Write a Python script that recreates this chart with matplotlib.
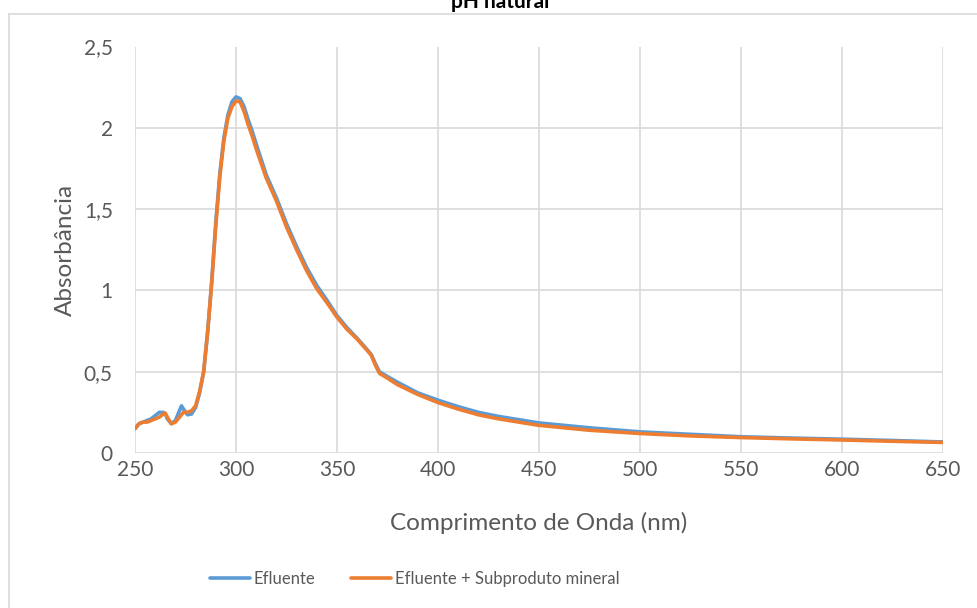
import matplotlib
matplotlib.use("Agg")
import matplotlib.pyplot as plt
from matplotlib.lines import Line2D

plt.rcParams['font.family'] = ['Lato', 'DejaVu Sans']

# Wavelength (nm) and absorbance readings for both samples
wl_efluente = [250, 252, 254, 256, 258, 260, 262, 264, 265, 266, 268, 270, 272, 273,
               274, 276, 278, 280, 282, 284, 286, 288, 290, 292, 294, 296, 298, 300,
               302, 304, 306, 308, 310, 315, 320, 325, 330, 335, 340, 345, 350, 355,
               360, 365, 367, 369, 371, 375, 380, 390, 400, 410, 420, 430, 440, 450,
               475, 500, 525, 550, 575, 600, 625, 650]
abs_efluente = [0.15, 0.18, 0.19, 0.20, 0.21, 0.23, 0.25, 0.25, 0.24, 0.21, 0.18, 0.20,
                0.26, 0.29, 0.27, 0.235, 0.24, 0.28, 0.37, 0.50, 0.75, 1.06, 1.42, 1.72,
                1.94, 2.08, 2.16, 2.19, 2.18, 2.13, 2.05, 1.98, 1.90, 1.71, 1.57, 1.41,
                1.27, 1.14, 1.03, 0.94, 0.845, 0.77, 0.705, 0.635, 0.605, 0.55, 0.50,
                0.47, 0.435, 0.37, 0.325, 0.285, 0.25, 0.225, 0.205, 0.185, 0.155, 0.13,
                0.115, 0.10, 0.092, 0.085, 0.077, 0.068]

wl_mistura = [250, 252, 254, 256, 258, 260, 262, 264, 265, 266, 268, 270, 272, 274,
              276, 278, 280, 282, 284, 286, 288, 290, 292, 294, 296, 298, 300, 302,
              304, 306, 308, 310, 315, 320, 325, 330, 335, 340, 345, 350, 355, 360,
              365, 367, 369, 371, 375, 380, 390, 400, 410, 420, 430, 440, 450, 475,
              500, 525, 550, 575, 600, 625, 650]
abs_mistura = [0.15, 0.18, 0.19, 0.19, 0.20, 0.21, 0.22, 0.24, 0.245, 0.22, 0.18, 0.19,
               0.22, 0.25, 0.25, 0.26, 0.29, 0.38, 0.50, 0.75, 1.05, 1.40, 1.70, 1.92,
               2.06, 2.13, 2.165, 2.16, 2.10, 2.02, 1.95, 1.87, 1.69, 1.55, 1.39, 1.25,
               1.12, 1.01, 0.925, 0.835, 0.76, 0.70, 0.63, 0.60, 0.54, 0.49, 0.46, 0.42,
               0.36, 0.31, 0.27, 0.235, 0.21, 0.19, 0.17, 0.14, 0.12, 0.105, 0.095,
               0.087, 0.08, 0.072, 0.065]

series_names = ["Efluente", "Efluente + Subproduto mineral"]
x_ticks = [250, 300, 350, 400, 450, 500, 550, 600, 650]
y_ticks = [0, 0.5, 1, 1.5, 2, 2.5]
y_tick_labels = ["0", "0,5", "1", "1,5", "2", "2,5"]

W, H = 978, 608
fig = plt.figure(figsize=(W / 100, H / 100), dpi=100)
ax = fig.add_axes([135 / W, 1 - 453 / H, (943 - 135) / W, (453 - 46.5) / H])

ax.plot(wl_efluente, abs_efluente, color="#5B9BD5", lw=2.6, label=series_names[0],
        solid_capstyle="round", zorder=3)
ax.plot(wl_mistura, abs_mistura, color="#ED7D31", lw=2.6, label=series_names[1],
        solid_capstyle="round", zorder=4)

ax.set_xlim(250, 650)
ax.set_ylim(0, 2.5)
ax.set_xticks(x_ticks)
ax.set_xticklabels([str(v) for v in x_ticks])
ax.set_yticks(y_ticks)
ax.set_yticklabels(y_tick_labels)
ax.grid(True, color="#d9d9d9", lw=1.2, zorder=0)
ax.set_axisbelow(True)
for s in ax.spines.values():
    s.set_visible(False)
ax.tick_params(length=0, labelsize=15, colors="#595959")
ax.tick_params(axis="x", pad=5)
ax.tick_params(axis="y", pad=16)

ax.set_xlabel("Comprimento de Onda (nm)", fontsize=17.5, color="#595959", labelpad=23)
ax.set_ylabel("Absorbância", fontsize=17.5, color="#595959", labelpad=6)

fig.text(500 / W, 1 - 8 / H, "pH natural", ha="center", va="baseline",
         fontsize=15, fontweight="bold", color="#000000")

# chart area border
fig.add_artist(Line2D([8.5 / W, 8.5 / W], [0, 1 - 13.5 / H], transform=fig.transFigure,
                      color="#d9d9d9", lw=1.2))
fig.add_artist(Line2D([8.5 / W, 1], [1 - 13.5 / H, 1 - 13.5 / H], transform=fig.transFigure,
                      color="#d9d9d9", lw=1.2))

fig.legend(loc="center", bbox_to_anchor=(414.5 / W, 1 - 579 / H), ncol=2, frameon=False,
           fontsize=12, handlelength=2.4, handletextpad=0.25, columnspacing=2.1,
           labelcolor="#595959")

fig.savefig("out.png", dpi=100)
